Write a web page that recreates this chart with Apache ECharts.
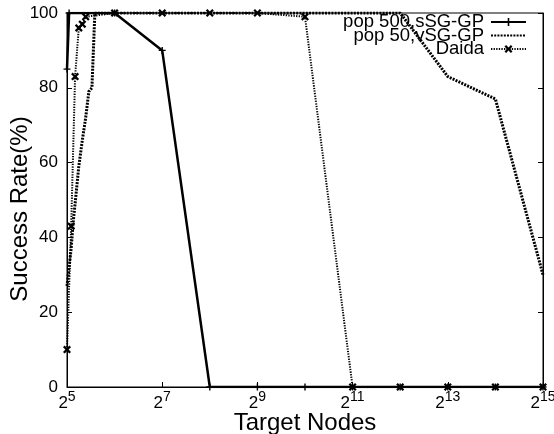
<!DOCTYPE html>
<html><head><meta charset="utf-8">
<script src="https://cdn.jsdelivr.net/npm/echarts@6/dist/echarts.min.js"></script>
<style>html,body{margin:0;padding:0;background:#fff}#c{width:554px;height:434px}</style>
</head><body><div id="c"></div>
<script>
// ---- data ----
const seriesNames = ['pop 500,sSG-GP', 'pop 50,vSG-GP', 'Daida'];
const sX = [32, 33, 64, 128, 256, 512, 1024, 2048, 4096, 8192, 16384, 32768];
const sY = [85, 100, 100, 90, 0, 0, 0, 0, 0, 0, 0, 0];
const vX = [32, 34, 35, 36, 38, 40, 42, 44, 46, 48, 64, 128, 256, 512, 1024, 2048, 4096, 8192, 16384, 32768];
const vY = [27, 37, 44, 49, 59, 66, 72, 79, 80, 100, 100, 100, 100, 100, 100, 100, 100, 83, 77, 30];
const dX = [32, 34, 36, 38, 40, 42, 64, 128, 256, 512, 1024, 2048, 4096, 8192, 16384, 32768];
const dY = [10, 43, 83, 96, 97, 99, 100, 100, 100, 100, 99, 0, 0, 0, 0, 0];
const xTickValues = [32, 128, 512, 2048, 8192, 32768];
const xTitle = 'Target Nodes';
const yTitle = 'Success Rate(%)';

const FONT = 'Liberation Sans';
const pair = (xs, ys) => xs.map((x, i) => [x, ys[i]]);
const plusPath = 'path://M4,0H6V4H10V6H6V10H4V6H0V4H4Z';
const crossPath = 'path://M0,2L2,0L5,3L8,0L10,2L7,5L10,8L8,10L5,7L2,10L0,8L3,5Z';

const chart = echarts.init(document.getElementById('c'), null, {renderer: 'canvas'});
chart.setOption({
  animation: false,
  backgroundColor: '#fff',
  grid: {left: 67, right: 11, top: 13, bottom: 47, show: true, borderColor: '#000', borderWidth: 1,
         containLabel: false, outerBoundsMode: 'none'},
  legend: {
    orient: 'vertical', right: 27, top: 12.5, align: 'right', padding: 0,
    itemWidth: 35, itemHeight: 10, itemGap: -5.5,
    textStyle: {fontFamily: FONT, fontSize: 18.5, color: '#000', padding: [0, 2, 0, 0]},
    data: [
      {name: seriesNames[0]},
      {name: seriesNames[1], itemStyle: {opacity: 0}},
      {name: seriesNames[2]}
    ]
  },
  xAxis: [{
    type: 'log', logBase: 2, min: 32, max: 32768,
    name: xTitle, nameLocation: 'middle', nameGap: 24, nameMoveOverlap: false,
    nameTextStyle: {fontFamily: FONT, fontSize: 24, color: '#000'},
    axisLine: {show: true, lineStyle: {color: '#000', width: 1}},
    axisTick: {show: true, inside: true, length: 5, lineStyle: {color: '#000'}, customValues: xTickValues},
    minorTick: {show: false},
    splitLine: {show: false},
    axisLabel: {
      customValues: xTickValues, margin: 3,
      formatter: v => '{b|2}{s|' + Math.round(Math.log2(v)) + '}',
      rich: {
        b: {fontFamily: FONT, fontSize: 17, color: '#000', verticalAlign: 'bottom', lineHeight: 22},
        s: {fontFamily: FONT, fontSize: 14, color: '#000', verticalAlign: 'top', lineHeight: 22}
      }
    }
  }],
  yAxis: [{
    type: 'value', min: 0, max: 100, interval: 20, position: 'left',
    name: yTitle, nameLocation: 'middle', nameGap: 35, nameMoveOverlap: false,
    nameTextStyle: {fontFamily: FONT, fontSize: 24, color: '#000', padding: [0, 18, 0, 0]},
    axisLine: {show: true, lineStyle: {color: '#000', width: 1}},
    axisTick: {show: true, inside: true, length: 5, lineStyle: {color: '#000'}},
    splitLine: {show: false},
    axisLabel: {fontFamily: FONT, fontSize: 17, color: '#000', margin: 9}
  }, {
    type: 'value', min: 0, max: 100, interval: 20, position: 'right',
    axisLine: {show: true, lineStyle: {color: '#000', width: 1}},
    axisTick: {show: true, inside: true, length: 5, lineStyle: {color: '#000'}},
    splitLine: {show: false},
    axisLabel: {show: false}
  }],
  series: [{
    name: seriesNames[0], type: 'line', data: pair(sX, sY),
    symbol: plusPath, symbolSize: 7, showAllSymbol: true,
    lineStyle: {color: '#000', width: 2.5, type: 'solid'},
    itemStyle: {color: '#000'}, z: 3
  }, {
    name: seriesNames[1], type: 'line', data: pair(vX, vY),
    symbol: 'none',
    lineStyle: {color: '#000', width: 3, type: [2, 1.2]},
    itemStyle: {color: '#000'}, z: 2
  }, {
    name: seriesNames[2], type: 'line', data: pair(dX, dY),
    symbol: crossPath, symbolSize: 8, showAllSymbol: true,
    lineStyle: {color: '#000', width: 2, type: [1.3, 1.3]},
    itemStyle: {color: '#000'}, z: 4
  }]
});
</script></body></html>
